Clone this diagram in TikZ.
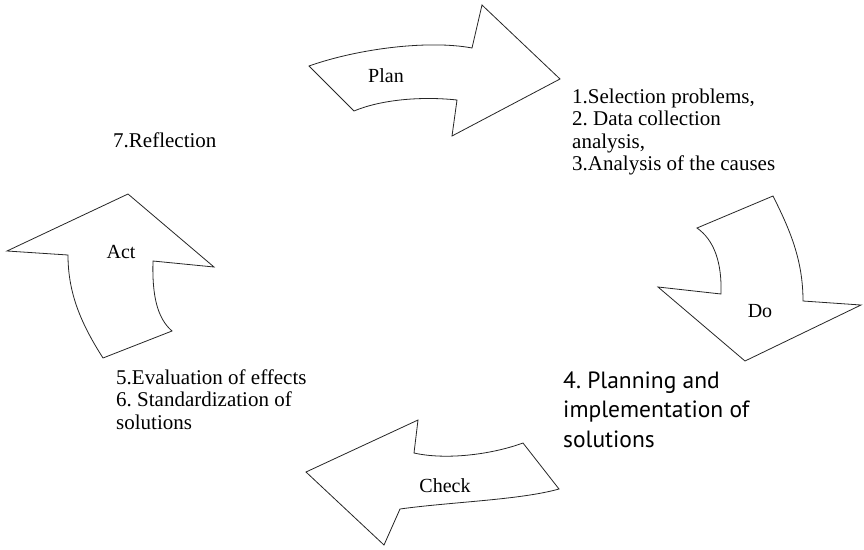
\documentclass[tikz,border=0pt]{standalone}
\usepackage{fontspec}
\setmainfont{Liberation Serif}
\newfontfamily\blocksans{PT Sans}
\frenchspacing
\begin{document}
\begin{tikzpicture}[x=1pt,y=-1pt,
  bigarrow/.style={draw=black!85,line width=0.8pt,line join=miter,fill=white},
  arrowlabel/.style={inner sep=0pt,anchor=base,font=\fontsize{20}{22}\selectfont},
  listtext/.style={inner sep=0pt,anchor=base west,font=\fontsize{21}{22.5}\selectfont},
  sanstext/.style={inner sep=0pt,anchor=base west,font=\blocksans\fontsize{23.5}{29.5}\selectfont}]
\useasboundingbox (0,0) rectangle (864,549);

% Plan: curved arrow pointing right
\draw[bigarrow] (309,66) .. controls (360,48) and (430,40) .. (472,48)
  -- (482,5) -- (560,79) -- (452,136) -- (457,100)
  .. controls (420,96) and (380,100) .. (354,111) -- cycle;
% Do: curved arrow pointing down
\draw[bigarrow] (697,228) -- (773,196)
  .. controls (790,230) and (803,260) .. (803,301)
  -- (861,305) -- (745,361) -- (658,287) -- (721,294)
  .. controls (722,262) and (714,240) .. (697,228) -- cycle;
% Check: curved arrow pointing left
\draw[bigarrow] (306,472) -- (418,420) -- (414,453)
  .. controls (445,460) and (490,455) .. (523,443)
  -- (559,489) .. controls (520,500) and (450,502) .. (400,509)
  -- (384,545) -- cycle;
% Act: curved arrow pointing up
\draw[bigarrow] (128,194) -- (214,267) -- (153,261)
  .. controls (152,295) and (157,318) .. (172,331)
  -- (103,358) .. controls (80,322) and (68,292) .. (68,255)
  -- (7,251) -- cycle;

% arrow labels
\node[arrowlabel] (plan) at (386,82) {Plan};
\node[arrowlabel] (do) at (760,317) {Do};
\node[arrowlabel] (check) at (445,492) {Check};
\node[arrowlabel] (act) at (121,258) {Act};

% step lists
\node[listtext] (reflection) at (113,147) {7.Reflection};
\node[listtext] (plansteps) at (572,103) {\begin{tabular}[t]{@{}l@{}}1.Selection problems,\\ 2. Data collection\\ analysis,\\ 3.Analysis of the causes\end{tabular}};
\node[listtext] (checksteps) at (116,384) {\begin{tabular}[t]{@{}l@{}}5.Evaluation of effects\\ 6. Standardization of\\ solutions\end{tabular}};
\node[sanstext] (dosteps) at (563,388) {\begin{tabular}[t]{@{}l@{}}4. Planning and\\ implementation of\\ solutions\end{tabular}};
\end{tikzpicture}
\end{document}
